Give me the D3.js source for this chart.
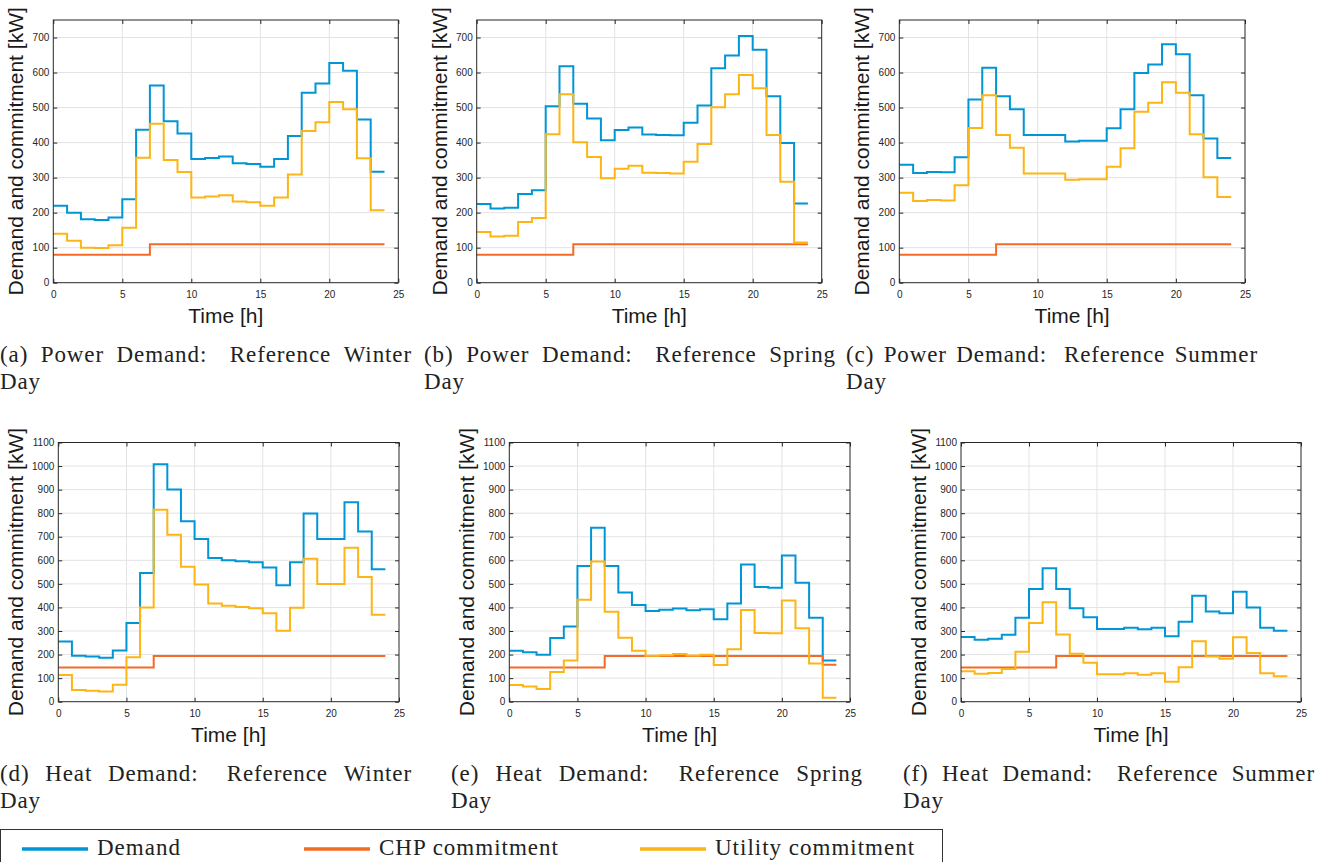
<!DOCTYPE html>
<html>
<head>
<meta charset="utf-8">
<script src="https://cdn.jsdelivr.net/npm/d3@7"></script>
<style>
  body { margin: 0; background: #fff; }
  svg { display: block; }
</style>
</head>
<body>
<svg id="fig" width="1325" height="862"></svg>
<script>
// hourly values for hours 0..23, each held until the next hour (stairs)
var powerWinterDemand  = [220, 200, 181, 179, 186, 238, 437, 563, 461, 426, 353, 356, 360, 341, 339, 331, 353, 419, 542, 569, 627, 605, 466, 317];
var powerWinterCHP     = [80, 80, 80, 80, 80, 80, 80, 110, 110, 110, 110, 110, 110, 110, 110, 110, 110, 110, 110, 110, 110, 110, 110, 110];
var powerWinterUtility = [140, 120, 100, 99, 107, 157, 357, 454, 350, 316, 243, 246, 250, 232, 230, 220, 243, 309, 433, 458, 516, 495, 355, 207];

var powerSpringDemand  = [225, 212, 214, 253, 264, 504, 618, 511, 469, 407, 436, 443, 423, 422, 421, 457, 506, 612, 649, 704, 665, 532, 399, 226];
var powerSpringCHP     = [80, 80, 80, 80, 80, 80, 80, 110, 110, 110, 110, 110, 110, 110, 110, 110, 110, 110, 110, 110, 110, 110, 110, 110];
var powerSpringUtility = [145, 132, 134, 173, 185, 424, 538, 401, 359, 298, 325, 334, 314, 313, 312, 345, 396, 501, 538, 593, 555, 422, 288, 115];

var powerSummerDemand  = [337, 313, 316, 315, 358, 523, 614, 532, 495, 422, 422, 422, 403, 405, 405, 441, 495, 599, 623, 681, 652, 535, 412, 356];
var powerSummerCHP     = [80, 80, 80, 80, 80, 80, 80, 110, 110, 110, 110, 110, 110, 110, 110, 110, 110, 110, 110, 110, 110, 110, 110, 110];
var powerSummerUtility = [257, 233, 236, 235, 278, 442, 535, 422, 385, 312, 312, 312, 294, 295, 295, 331, 384, 488, 514, 572, 542, 424, 301, 245];

var heatWinterDemand  = [256, 195, 192, 187, 217, 334, 546, 1008, 901, 766, 691, 610, 600, 596, 592, 570, 494, 592, 799, 691, 691, 846, 722, 562];
var heatWinterCHP     = [145, 145, 145, 145, 145, 145, 145, 194, 194, 194, 194, 194, 194, 194, 194, 194, 194, 194, 194, 194, 194, 194, 194, 194];
var heatWinterUtility = [113, 50, 47, 43, 72, 189, 400, 815, 709, 573, 497, 417, 407, 402, 397, 375, 301, 399, 607, 500, 500, 653, 529, 369];

var heatSpringDemand  = [216, 210, 199, 270, 319, 576, 738, 576, 463, 410, 385, 390, 395, 388, 392, 350, 417, 582, 487, 484, 620, 505, 356, 175];
var heatSpringCHP     = [145, 145, 145, 145, 145, 145, 145, 194, 194, 194, 194, 194, 194, 194, 194, 194, 194, 194, 194, 194, 194, 194, 194, 157];
var heatSpringUtility = [71, 65, 54, 126, 175, 433, 595, 382, 271, 216, 195, 197, 202, 196, 199, 156, 223, 389, 292, 290, 429, 312, 162, 17];

var heatSummerDemand  = [275, 263, 267, 284, 356, 478, 566, 478, 397, 358, 309, 309, 314, 307, 314, 278, 339, 450, 383, 375, 467, 400, 314, 301];
var heatSummerCHP     = [145, 145, 145, 145, 145, 145, 145, 194, 194, 194, 194, 194, 194, 194, 194, 194, 194, 194, 194, 194, 194, 194, 194, 194];
var heatSummerUtility = [129, 119, 122, 139, 212, 334, 422, 285, 203, 165, 116, 116, 121, 114, 121, 85, 146, 257, 192, 182, 274, 207, 121, 108];

var xTicks = [0, 5, 10, 15, 20, 25];
var powerTicks = [0, 100, 200, 300, 400, 500, 600, 700];
var heatTicks = [0, 100, 200, 300, 400, 500, 600, 700, 800, 900, 1000, 1100];

var seriesNames = ["Demand", "CHP commitment", "Utility commitment"];
var captions = [
  "(a) Power Demand: Reference Winter Day",
  "(b) Power Demand: Reference Spring Day",
  "(c) Power Demand: Reference Summer Day",
  "(d) Heat Demand: Reference Winter Day",
  "(e) Heat Demand: Reference Spring Day",
  "(f) Heat Demand: Reference Summer Day"
];

var colors = ["#0096d6", "#f36b25", "#fdb515"];
var axisFont = "'Liberation Sans', Arial, Helvetica, sans-serif";
var capFont = "'Liberation Serif', 'Times New Roman', serif";

var panels = [
  {series: [powerWinterDemand, powerWinterCHP, powerWinterUtility], ticks: powerTicks, ymax: 750,
   left: 53.3, right: 398.3, top: 20, bottom: 282.7, labelOff: 30, capX: 0, capY: 362},
  {series: [powerSpringDemand, powerSpringCHP, powerSpringUtility], ticks: powerTicks, ymax: 750,
   left: 476.7, right: 821.7, top: 20, bottom: 282.7, labelOff: 30, capX: 424, capY: 362},
  {series: [powerSummerDemand, powerSummerCHP, powerSummerUtility], ticks: powerTicks, ymax: 750,
   left: 899.3, right: 1245, top: 20, bottom: 282.7, labelOff: 30, capX: 846, capY: 362},
  {series: [heatWinterDemand, heatWinterCHP, heatWinterUtility], ticks: heatTicks, ymax: 1100,
   left: 58.3, right: 399, top: 442.5, bottom: 701.7, labelOff: 35, capX: 0, capY: 781},
  {series: [heatSpringDemand, heatSpringCHP, heatSpringUtility], ticks: heatTicks, ymax: 1100,
   left: 509.3, right: 850, top: 442.5, bottom: 701.7, labelOff: 35, capX: 451, capY: 781},
  {series: [heatSummerDemand, heatSummerCHP, heatSummerUtility], ticks: heatTicks, ymax: 1100,
   left: 961, right: 1301, top: 442.5, bottom: 701.7, labelOff: 35, capX: 903, capY: 781}
];

var svg = d3.select("#fig");

panels.forEach(function(p, pi) {
  var x = d3.scaleLinear().domain([0, 25]).range([p.left, p.right]);
  var y = d3.scaleLinear().domain([0, p.ymax]).range([p.bottom, p.top]);
  var g = svg.append("g");

  // grid
  g.append("g").selectAll("line").data(xTicks.slice(1, -1)).enter().append("line")
    .attr("x1", function(d) { return x(d); }).attr("x2", function(d) { return x(d); })
    .attr("y1", p.top).attr("y2", p.bottom)
    .attr("stroke", "#e3e3e3").attr("stroke-width", 1);
  g.append("g").selectAll("line").data(p.ticks.filter(function(d) { return d > 0 && d < p.ymax; })).enter().append("line")
    .attr("x1", p.left).attr("x2", p.right)
    .attr("y1", function(d) { return y(d); }).attr("y2", function(d) { return y(d); })
    .attr("stroke", "#e3e3e3").attr("stroke-width", 1);

  // stairs
  var line = d3.line()
    .x(function(d) { return x(d[0]); })
    .y(function(d) { return y(d[1]); })
    .curve(d3.curveStepAfter);
  p.series.forEach(function(vals, si) {
    var pts = vals.map(function(v, i) { return [i, v]; });
    pts.push([vals.length, vals[vals.length - 1]]);
    g.append("path").datum(pts)
      .attr("d", line)
      .attr("fill", "none")
      .attr("stroke", colors[si])
      .attr("stroke-width", 2);
  });

  // axes with inward ticks on all sides
  var fmt = d3.format("d");
  var ax = [
    g.append("g").attr("transform", "translate(0," + p.bottom + ")")
      .call(d3.axisBottom(x).tickValues(xTicks).tickFormat(fmt).tickSize(-4).tickPadding(8).tickSizeOuter(0)),
    g.append("g").attr("transform", "translate(" + p.left + ",0)")
      .call(d3.axisLeft(y).tickValues(p.ticks).tickFormat(fmt).tickSize(-4).tickPadding(4).tickSizeOuter(0)),
    g.append("g").attr("transform", "translate(0," + p.top + ")")
      .call(d3.axisTop(x).tickValues(xTicks).tickSize(-4).tickFormat("").tickSizeOuter(0)),
    g.append("g").attr("transform", "translate(" + p.right + ",0)")
      .call(d3.axisRight(y).tickValues(p.ticks).tickSize(-4).tickFormat("").tickSizeOuter(0))
  ];
  ax.forEach(function(a) {
    a.select(".domain").remove();
    a.selectAll(".tick line").attr("stroke", "#262626");
    a.selectAll(".tick text").attr("fill", "#262626")
      .style("font-family", axisFont).style("font-size", "10px");
  });

  g.append("rect")
    .attr("x", p.left).attr("y", p.top)
    .attr("width", p.right - p.left).attr("height", p.bottom - p.top)
    .attr("fill", "none").attr("stroke", "#262626").attr("stroke-width", 1);

  // axis labels
  g.append("text")
    .attr("transform", "translate(" + (p.left - p.labelOff) + "," + ((p.top + p.bottom) / 2) + ") rotate(-90)")
    .attr("text-anchor", "middle")
    .style("font-family", axisFont).style("font-size", "21px")
    .attr("fill", "#1a1a1a")
    .text("Demand and commitment [kW]");
  g.append("text")
    .attr("x", (p.left + p.right) / 2).attr("y", p.bottom + 40.5)
    .attr("text-anchor", "middle")
    .style("font-family", axisFont).style("font-size", "21px")
    .attr("fill", "#1a1a1a")
    .text("Time [h]");

  // caption, first line justified (wider gap after the colon, as TeX does)
  var words = captions[pi].split(" ");
  var last = words.pop();
  var cg = g.append("g").style("font-family", capFont).style("font-size", "23px")
    .style("letter-spacing", "0.9px").attr("fill", "#222");
  var nodes = words.map(function(w) { return cg.append("text").attr("y", p.capY).text(w); });
  var widths = nodes.map(function(n) { return n.node().getComputedTextLength(); });
  var weights = words.slice(0, -1).map(function(w) { return w.slice(-1) === ":" ? 1.8 : 1; });
  var unit = (412 - d3.sum(widths)) / d3.sum(weights);
  var cx = p.capX;
  nodes.forEach(function(n, i) {
    n.attr("x", cx);
    cx += widths[i] + (i < weights.length ? weights[i] * unit : 0);
  });
  cg.append("text").attr("x", p.capX).attr("y", p.capY + 27).text(last);
});

// legend
var lg = svg.append("g");
lg.append("rect").attr("x", 0.5).attr("y", 829.5).attr("width", 942).attr("height", 60)
  .attr("fill", "#fff").attr("stroke", "#333").attr("stroke-width", 1);
var legX = [22, 304, 640];
seriesNames.forEach(function(name, i) {
  lg.append("line")
    .attr("x1", legX[i]).attr("x2", legX[i] + 66)
    .attr("y1", 849).attr("y2", 849)
    .attr("stroke", colors[i]).attr("stroke-width", 3.5);
  lg.append("text")
    .attr("x", legX[i] + 75).attr("y", 855)
    .style("font-family", capFont).style("font-size", "23px")
    .style("letter-spacing", "1px")
    .attr("fill", "#222")
    .text(name);
});
</script>
</body>
</html>
